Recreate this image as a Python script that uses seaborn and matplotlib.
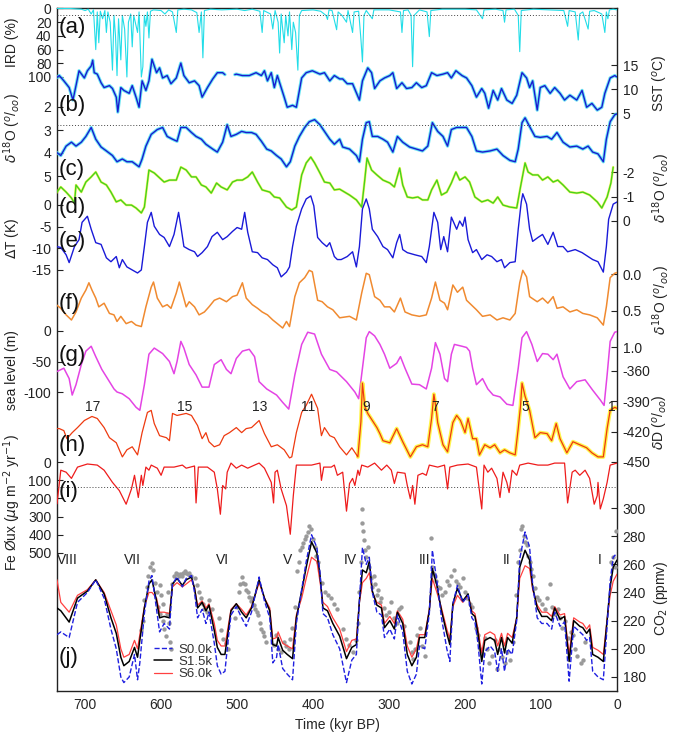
import numpy as np
import matplotlib
matplotlib.use("Agg")
import matplotlib.pyplot as plt
from matplotlib.lines import Line2D
import seaborn as sns

# ---------------- data (time in kyr BP, value) ----------------
IRD = [(737,0),(720,0),(705,1),(700,3),(696,1),(692,8),(689,2),(686,60),(684,5),(682,50),(680,4),(677,15),(674,3),
       (672,35),(670,5),(667,20),(664,90),(662,10),(660,40),(658,98),(656,15),(653,75),(651,10),(648,30),(645,100),
       (643,20),(640,8),(638,56),(636,10),(633,25),(631,35),(629,5),(626,100),(624,85),(622,10),(620,26),(618,5),
       (616,43),(614,4),(610,2),(600,3),(595,8),(590,2),(585,5),(580,35),(578,2),(570,1),(560,2),(553,6),(550,35),
       (547,5),(545,72),(543,3),(535,1),(520,2),(500,1),(490,3),(480,1),(470,4),(467,35),(465,3),(456,8),(453,30),
       (450,3),(446,20),(444,65),(442,8),(440,30),(438,50),(436,10),(433,40),(431,5),(428,60),(426,20),(423,35),
       (420,90),(418,10),(415,3),(400,2),(390,4),(383,10),(381,16),(379,2),(375,3),(369,31),(367,5),(362,10),
       (356,20),(354,3),(348,35),(346,5),(340,4),(337,45),(335,78),(333,10),(330,3),(322,15),(320,2),(300,2),
       (285,5),(283,35),(281,3),(275,2),(271,10),(269,85),(267,10),(260,2),(250,5),(247,41),(245,3),(230,1),
       (200,1),(185,2),(177,15),(175,2),(160,1),(150,3),(148,20),(146,2),(135,1),(130,10),(128,63),(126,3),
       (110,1),(90,2),(70,3),(65,26),(63,3),(55,5),(51,46),(49,8),(45,5),(38,30),(36,4),(30,3),(20,8),(16,35),
       (14,5),(12,15),(10,2),(5,1),(0,2)]

SST = [(738,12.3),(734,12.8),(728,11.7),(721,10.3),(716,7.7),(712,10.7),(708,13.8),(701,12.3),(697,13.8),(692,14.8),
       (690,16.0),(688,13.4),(684,13.1),(679,11.3),(675,10.3),(668,10.7),(664,10.1),(659,8.3),(657,5.2),(653,10.3),
       (649,9.7),(642,9.1),(638,10.7),(633,8.3),(629,6.2),(625,11.7),(620,9.7),(616,11.7),(612,16.2),(606,13.4),
       (602,14.4),(598,12.3),(592,12.8),(587,11.1),(580,12.3),(574,15.4),(570,12.8),(563,11.3),(556,11.7),(550,10.7),
       (546,8.3),(539,10.3),(532,12.1),(526,13.4),(519,13.4),(516,13.0),
       (503,13.0),(501,13.1),(493,12.8),(484,12.8),(475,13.4),(468,12.8),(464,13.8),(460,11.7),(455,13.4),(451,10.3),
       (447,12.8),(442,10.3),(438,8.3),(434,6.2),(427,6.6),(422,6.2),(415,12.3),(409,13.4),(401,13.8),(391,13.1),
       (385,13.4),(378,11.7),(372,12.8),(365,12.1),(361,12.1),(355,11.1),(348,11.1),(339,7.7),(335,11.7),(328,14.4),
       (323,13.4),(319,10.1),(312,11.7),(306,12.3),(299,12.8),(295,13.4),(290,10.1),(283,11.3),(277,10.1),(270,10.3),
       (264,11.3),(257,10.3),(251,10.7),(244,13.4),(237,12.8),(229,13.1),(223,13.4),(218,12.3),(212,13.8),(204,12.8),
       (198,12.3),(191,10.7),(185,8.3),(178,10.1),(174,9.1),(169,6.0),(163,9.7),(157,7.7),(152,10.1),(145,7.7),
       (138,7.0),(132,8.7),(125,13.4),(119,12.3),(115,10.3),(111,11.7),(105,5.6),(101,10.3),(95,10.7),(88,9.1),
       (82,10.3),(75,9.1),(69,7.7),(62,8.7),(53,7.7),(46,9.7),(40,6.2),(33,7.0),(26,5.6),(20,6.2),(16,9.1),
       (9,12.3),(3,12.8),(0,12.5)]
SST_GAP = (516, 503)

BENTHIC = [(738,3.96),(732,4.11),(725,3.70),(718,3.53),(712,3.70),(705,3.53),(699,3.28),(692,2.89),(686,3.40),
           (679,3.74),(672,3.91),(664,4.11),(658,4.38),(651,4.26),(645,4.38),(638,4.38),(629,4.60),(625,4.26),
           (620,3.70),(613,3.19),(605,2.98),(598,2.89),(592,3.28),(585,3.40),(579,3.49),(574,2.89),(567,2.89),
           (560,3.11),(554,3.28),(547,3.40),(541,3.62),(532,3.83),(526,3.96),(519,3.53),(513,2.77),(508,3.28),
           (501,3.19),(494,3.06),(488,3.11),(481,3.11),(475,3.19),(468,3.49),(461,3.83),(455,3.91),(448,4.11),
           (442,4.26),(435,4.60),(430,4.38),(424,3.70),(418,3.28),(411,2.89),(405,2.64),(398,2.55),(391,2.77),
           (385,3.06),(378,3.40),(372,3.62),(365,3.40),(361,3.74),(352,3.83),(343,4.11),(339,4.38),(335,3.40),
           (330,2.68),(326,2.64),(322,3.28),(315,3.28),(308,3.40),(302,3.53),(295,3.96),(289,3.28),(282,3.53),
           (273,3.74),(264,3.83),(256,3.91),(249,3.70),(243,2.68),(236,3.06),(229,3.28),(223,3.70),(218,2.98),
           (211,2.89),(204,2.89),(198,2.89),(191,3.28),(185,3.91),(177,3.96),(167,3.91),(158,3.83),(150,4.11),
           (141,4.32),(134,4.38),(130,3.83),(125,2.68),(121,2.47),(115,2.85),(108,3.28),(101,3.32),(92,3.28),
           (86,3.40),(79,3.11),(71,3.53),(62,3.74),(53,3.70),(45,3.83),(38,3.70),(32,3.96),(25,4.04),(18,4.38),
           (14,3.40),(9,2.64),(3,2.34),(0,2.30)]

PLANKTIC = [(738,-1.14),(732,-1.39),(725,-1.18),(718,-0.94),(714,-0.73),(712,-1.47),(705,-1.18),(699,-1.59),
            (692,-1.80),(686,-2.0),(679,-1.59),(672,-1.47),(666,-1.18),(659,-0.78),(653,-0.86),(646,-0.65),
            (639,-0.65),(633,-0.53),(626,-0.33),(622,-0.57),(616,-2.08),(609,-1.96),(602,-1.76),(596,-1.59),
            (589,-1.67),(580,-1.67),(574,-2.2),(567,-2.08),(560,-1.80),(554,-1.80),(547,-1.47),(541,-1.39),
            (534,-1.14),(527,-1.55),(521,-1.39),(513,-1.27),(506,-1.59),(500,-1.67),(493,-1.67),(486,-1.80),
            (480,-2.0),(473,-1.59),(467,-1.27),(457,-1.18),(451,-0.98),(444,-0.94),(435,-0.57),(428,-0.45),
            (422,-0.57),(415,-1.88),(409,-2.37),(403,-2.61),(398,-2.37),(391,-1.96),(385,-1.59),(378,-1.55),
            (372,-1.27),(365,-1.30),(352,-1.06),(343,-0.86),(336,-0.57),(332,-1.67),(329,-2.57),(323,-2.08),
            (316,-1.88),(308,-1.67),(299,-1.55),(293,-1.39),(286,-2.16),(282,-1.47),(276,-0.98),(269,-0.94),
            (262,-0.98),(256,-0.86),(249,-0.86),(244,-1.27),(237,-1.67),(231,-1.06),(224,-1.18),(218,-1.55),
            (212,-2.0),(207,-1.67),(200,-1.80),(194,-1.59),(187,-0.98),(178,-0.78),(170,-0.86),(163,-0.73),
            (157,-0.98),(150,-0.65),(141,-0.57),(132,-0.53),(127,-1.39),(121,-2.37),(117,-2.0),(111,-1.88),
            (104,-1.88),(98,-1.67),(91,-1.80),(84,-1.59),(78,-1.67),(71,-1.47),(62,-1.18),(53,-1.14),(45,-1.18),
            (36,-1.06),(26,-0.78),(20,-0.53),(13,-0.98),(8,-1.55),(5,-2.2)]

DELTA_T = [(738,-9.6),(732,-9.8),(725,-11.5),(721,-13.3),(714,-9.6),(708,-8.0),(704,-4.0),(697,-2.6),(692,-5.6),
           (686,-8.7),(679,-9.1),(672,-12.2),(666,-13.1),(659,-11.9),(655,-14.5),(651,-12.6),(645,-14.3),(638,-15.0),
           (631,-15.7),(626,-15.0),(622,-9.6),(618,-4.0),(613,-1.7),(609,-4.9),(602,-6.8),(596,-7.5),(589,-9.6),
           (583,-6.8),(577,-1.7),(574,-4.9),(570,-9.6),(563,-10.3),(556,-10.8),(552,-11.9),(546,-11.0),(539,-9.6),
           (533,-7.3),(526,-6.3),(519,-8.0),(513,-7.3),(506,-6.1),(500,-5.2),(494,-5.6),(490,-1.7),(486,-6.3),
           (480,-10.8),(473,-11.0),(467,-12.2),(460,-12.6),(453,-13.8),(447,-14.5),(442,-16.6),(435,-15.5),
           (431,-14.3),(427,-9.6),(422,-4.9),(415,-0.9),(409,1.4),(403,2.1),(399,-0.2),(394,-7.5),(388,-8.7),
           (382,-9.6),(378,-8.7),(372,-11.9),(368,-12.6),(363,-12.6),(355,-11.9),(348,-10.8),(343,-14.3),(339,-9.6),
           (335,-0.9),(330,1.4),(326,-0.9),(322,-5.6),(315,-7.3),(308,-9.6),(302,-10.3),(295,-12.2),(290,-8.7),
           (286,-6.8),(282,-10.3),(276,-11.0),(266,-11.5),(257,-11.9),(251,-13.3),(247,-9.6),(241,-1.7),(236,-4.0),
           (232,-10.3),(228,-7.3),(223,-10.8),(218,-2.8),(211,-5.6),(207,-3.7),(203,-4.9),(200,-2.8),(196,-8.0),
           (190,-11.0),(185,-10.3),(178,-12.6),(171,-11.5),(165,-11.9),(158,-13.1),(152,-12.6),(148,-14.5),
           (141,-13.3),(134,-13.1),(130,-5.6),(126,0.7),(124,2.6),(119,0.2),(115,-5.6),(111,-8.4),(104,-7.5),
           (98,-6.8),(91,-9.1),(84,-6.3),(78,-9.6),(71,-9.6),(65,-10.8),(55,-10.3),(46,-11.0),(38,-11.9),(32,-12.6),
           (25,-13.1),(18,-15.5),(14,-9.6),(11,-3.3),(5,0.2),(0,0.7)]

ORANGE = [(738,0.42),(732,0.47),(725,0.56),(718,0.63),(712,0.52),(705,0.33),(699,0.22),(695,0.12),(691,0.22),
          (686,0.33),(682,0.45),(675,0.40),(668,0.54),(662,0.56),(658,0.65),(653,0.58),(646,0.68),(639,0.65),
          (633,0.70),(626,0.72),(620,0.45),(613,0.18),(610,0.11),(605,0.33),(598,0.45),(592,0.42),(587,0.47),
          (580,0.26),(576,0.11),(572,0.26),(567,0.45),(563,0.38),(556,0.45),(550,0.56),(543,0.52),(537,0.45),
          (530,0.36),(523,0.33),(514,0.38),(506,0.31),(500,0.29),(493,0.12),(488,0.33),(480,0.42),(473,0.47),
          (467,0.52),(460,0.56),(453,0.63),(447,0.68),(440,0.74),(435,0.65),(431,0.72),(424,0.31),(418,0.12),
          (411,0.05),(405,-0.05),(401,-0.03),(394,0.36),(388,0.38),(381,0.45),(374,0.49),(365,0.60),(352,0.58),
          (343,0.63),(336,0.26),(330,-0.01),(326,0.01),(319,0.31),(312,0.36),(306,0.45),(299,0.45),(293,0.52),
          (285,0.33),(279,0.52),(270,0.56),(260,0.58),(251,0.56),(244,0.33),(239,0.11),(233,0.36),(227,0.40),
          (223,0.49),(216,0.15),(210,0.25),(203,0.18),(198,0.36),(194,0.40),(185,0.49),(177,0.58),(167,0.56),
          (158,0.63),(150,0.60),(141,0.63),(134,0.54),(128,0.12),(124,-0.05),(119,0.04),(115,0.31),(105,0.38),
          (98,0.33),(91,0.40),(84,0.31),(79,0.47),(71,0.45),(62,0.52),(53,0.49),(45,0.54),(36,0.56),(26,0.60),
          (18,0.70),(14,0.45),(9,0.05),(3,-0.01),(0,-0.02)]

SEA_LEVEL = [(738,-67),(728,-61),(721,-78),(717,-105),(712,-88),(705,-55),(699,-33),(692,-25),(686,-42),(678,-63),
             (668,-83),(662,-95),(658,-100),(651,-103),(642,-111),(633,-125),(628,-130),(622,-88),(616,-38),(609,-28),
             (598,-37),(589,-50),(583,-70),(579,-50),(574,-17),(570,-28),(563,-55),(554,-72),(546,-92),(537,-92),
             (530,-55),(521,-47),(514,-63),(508,-70),(501,-45),(493,-33),(484,-30),(477,-42),(471,-83),(461,-95),
             (448,-105),(440,-117),(432,-128),(424,-72),(415,-22),(407,-2),(398,-5),(389,-38),(378,-63),(369,-67),
             (356,-83),(345,-100),(340,-111),(335,-61),(330,-11),(326,-1),(319,-8),(312,-22),(306,-38),(299,-61),
             (290,-53),(285,-42),(279,-61),(270,-87),(260,-88),(251,-95),(244,-61),(239,-19),(233,-38),(227,-78),
             (223,-83),(218,-38),(214,-22),(204,-25),(198,-27),(194,-33),(190,-61),(185,-88),(177,-78),(170,-95),
             (163,-105),(154,-108),(145,-120),(137,-122),(130,-61),(125,-11),(119,-1),(112,-22),(105,-50),(98,-37),
             (91,-38),(84,-47),(79,-38),(71,-75),(62,-95),(53,-83),(42,-80),(32,-97),(22,-113),(17,-122),(13,-72),
             (9,-17),(3,-2),(0,-1)]

DELTA_D = [(737,-417),(734,-417),(728,-419),(724,-427),(717,-421),(710,-416),(701,-409),(691,-405),(684,-407),
           (675,-416),(668,-426),(659,-431),(651,-445),(645,-438),(638,-435),(631,-443),(625,-421),(618,-401),
           (613,-399),(609,-412),(602,-424),(593,-426),(589,-429),(585,-402),(579,-404),(567,-402),(560,-404),
           (552,-414),(546,-427),(541,-421),(537,-430),(530,-435),(523,-433),(517,-424),(510,-421),(501,-416),
           (494,-421),(488,-417),(481,-416),(471,-409),(464,-422),(455,-435),(447,-433),(438,-438),(431,-446),
           (428,-445),(422,-421),(415,-401),(409,-394),(402,-383),(394,-397),(389,-424),(385,-416),(378,-424),
           (372,-426),(365,-435),(356,-443),(349,-436),(341,-445),(337,-410),(335,-372),(332,-395),(328,-402),
           (322,-409),(316,-416),(312,-422),(308,-429),(299,-431),(290,-417),(282,-430),(272,-445),(264,-435),
           (256,-433),(249,-435),(244,-407),(241,-383),(238,-398),(236,-411),(229,-433),(223,-440),(216,-411),
           (211,-404),(206,-409),(200,-421),(196,-407),(190,-427),(185,-427),(181,-443),(174,-433),(167,-436),
           (161,-433),(154,-441),(148,-438),(141,-441),(134,-443),(130,-417),(127,-395),(125,-372),(121,-385),
           (115,-399),(108,-426),(101,-421),(92,-422),(86,-429),(80,-412),(75,-427),(66,-441),(58,-430),(49,-433),
           (40,-436),(33,-441),(25,-445),(18,-445),(13,-417),(9,-399),(3,-396),(0,-397)]

FE_FLUX = [(737,230),(732,45),(725,56),(718,90),(710,28),(697,11),(684,17),(675,45),(664,112),(655,157),(646,232),
           (639,148),(635,73),(630,195),(626,73),(624,129),(620,28),(616,45),(613,17),(605,34),(600,73),(596,28),
           (583,28),(572,17),(567,34),(556,22),(554,225),(551,28),(539,28),(530,56),(526,148),(522,287),(519,129),
           (515,148),(513,56),(508,6),(501,34),(494,17),(486,34),(477,17),(471,6),(464,34),(455,112),(452,225),
           (450,56),(447,45),(442,148),(435,240),(430,397),(426,185),(422,17),(414,17),(402,17),(391,6),(389,101),
           (386,28),(376,28),(372,17),(368,73),(361,56),(356,270),(352,118),(348,90),(345,129),(341,45),(339,73),
           (336,17),(328,28),(319,6),(310,45),(303,17),(297,45),(293,118),(289,56),(279,62),(276,129),(272,202),
           (269,129),(266,232),(262,73),(256,62),(251,73),(247,17),(236,28),(227,17),(223,148),(220,28),(210,17),
           (196,11),(185,28),(178,258),(175,17),(170,56),(165,34),(158,90),(154,195),(150,56),(145,112),(142,168),
           (138,45),(132,73),(128,17),(117,6),(104,17),(91,17),(82,6),(69,6),(65,225),(59,56),(55,45),(49,73),
           (42,45),(36,90),(30,232),(26,185),(25,112),(22,258),(18,202),(13,112),(9,17),(0,6)]

CO2_TIME = [737,732,721,710,697,686,675,666,659,653,649,642,635,631,628,622,616,612,606,602,596,589,585,579,572,
            567,560,556,552,546,541,537,530,526,521,516,511,508,501,494,488,481,475,471,464,457,453,448,446,440,
            434,427,422,415,409,402,395,391,387,381,374,365,356,349,343,339,335,330,326,322,316,310,306,299,293,
            289,282,276,270,264,260,253,247,243,237,231,224,220,216,210,203,196,191,187,183,178,174,167,161,157,
            152,148,144,138,132,128,121,115,111,105,99,92,86,82,75,69,63,57,49,45,40,36,32,25,18,13,9,5,0]
CO2_S15 = [229,227,219,236,241,249,239,222,211,194,188,191,201,194,206,229,246,249,234,222,223,222,246,250,245,
           249,251,243,229,233,227,231,213,201,196,196,215,227,232,226,222,229,241,249,236,227,203,202,208,199,
           196,193,222,241,258,276,268,253,229,227,218,209,193,201,203,234,256,254,262,241,231,229,215,220,214,
           226,218,196,188,194,208,208,227,257,245,227,211,203,232,243,234,239,225,223,211,191,206,208,206,196,
           208,197,208,204,222,258,270,263,244,229,223,223,220,229,221,223,191,220,216,215,211,214,196,194,191,
           220,244,258,263]
CO2_S00 = [210,212,208,233,240,249,236,214,200,180,176,180,196,178,190,225,248,252,228,212,218,214,246,251,244,
           250,252,240,222,228,218,226,204,188,182,184,210,224,230,222,216,226,241,251,234,222,190,194,203,186,
           182,178,218,242,262,281,272,255,225,222,210,200,176,192,196,234,272,260,265,240,226,224,208,214,207,
           224,212,184,175,182,202,200,225,270,248,222,200,191,232,245,233,238,222,219,204,175,198,202,198,184,
           200,184,200,196,220,264,283,272,246,222,218,218,214,226,216,219,177,216,212,210,206,208,184,180,178,
           216,248,265,268]
CO2_S60 = [249,233,226,238,242,249,240,227,217,200,194,196,206,200,210,230,240,240,236,226,226,225,244,247,244,
           246,249,243,231,234,229,232,218,206,202,202,218,228,232,228,224,230,240,247,236,229,207,208,212,204,
           202,200,224,236,250,265,262,248,233,230,222,214,198,206,207,233,247,250,254,240,233,231,218,223,218,
           227,221,202,194,200,210,210,228,250,240,229,214,207,230,238,233,238,227,225,214,197,210,212,210,202,
           211,202,211,208,222,250,259,257,242,231,226,226,223,230,224,225,196,222,219,218,214,217,201,199,196,
           221,238,248,253]

CO2_ICE = [(626,213),(624,220),(622,235),(619,244),(617,252),(614,258),(612,261),(610,256),(608,247),(606,240),
           (604,230),(602,225),(601,245),(600,238),(598,232),(597,220),(596,214),(594,209),(592,225),(591,240),
           (590,218),(588,205),(587,200),(585,246),(583,252),(581,254),(579,253),(577,252),(575,253),(573,252),
           (571,254),(569,255),(567,254),(565,253),(563,254),(561,252),(555,250),(553,245),(550,240),(548,236),
           (545,232),(543,228),(540,226),(537,235),(533,228),(524,222),(521,213),(518,207),(515,204),(512,200),
           (503,222),(500,230),(498,240),(496,246),(494,251),(492,247),(490,246),(488,242),(486,240),(484,237),
           (482,234),(480,236),(478,231),(476,228),(474,226),(472,224),(470,218),(468,214),(466,212),(464,209),
           (462,205),(452,203),(449,210),(446,200),(442,198),(438,205),(435,202),(432,200),(430,207),(428,215),
           (424,230),(421,255),(419,262),(417,270),(415,272),(413,275),(411,278),(409,280),(407,283),(405,287),
           (403,285),(400,278),(398,272),(396,266),(393,262),(388,247),(384,240),(380,238),(376,236),(372,232),
           (368,228),(361,214),(357,207),(353,203),(348,198),(344,206),(341,218),(339,240),(337,262),(336,299),
           (335,289),(334,284),(333,277),(332,270),(330,265),(328,272),(326,258),(324,250),(322,244),(320,252),
           (318,246),(316,238),(314,242),(312,233),(310,236),(307,229),(304,224),(300,226),(297,233),(294,222),
           (290,218),(287,228),(284,230),(280,216),(273,205),(270,198),(268,193),(266,200),(263,210),(259,215),
           (256,202),(253,195),(245,279),(244,258),(242,254),(240,252),(238,248),(236,244),(233,243),(230,238),
           (227,240),(224,248),(221,245),(218,252),(215,256),(212,248),(209,246),(206,244),(203,250),(200,240),
           (197,236),(194,232),(191,230),(186,215),(183,210),(180,200),(177,196),(174,208),(171,200),(168,190),
           (165,195),(161,206),(158,186),(155,200),(152,194),(148,190),(145,198),(141,192),(137,205),(133,238),
           (130,262),(128,270),(127,285),(125,287),(123,280),(121,276),(119,274),(117,266),(115,262),(113,257),
           (111,252),(108,243),(105,237),(102,235),(99,232),(95,228),(92,236),(88,246),(85,230),(82,225),(78,228),
           (75,222),(72,215),(68,220),(64,208),(61,212),(58,210),(55,200),(52,195),(48,190),(45,192),(42,205),
           (8,262),(5,265),(3,258),(1,284)]

X_TICKS = [700, 600, 500, 400, 300, 200, 100, 0]
MIS_LABELS = [(17, 93), (15, 185), (13, 260), (11, 308), (9, 366), (7, 435), (5, 525), (1, 612)]
TERM_LABELS = [("VIII", 67), ("VII", 132), ("VI", 222), ("V", 288), ("IV", 350), ("III", 425), ("II", 507), ("I", 600)]
LEGEND_LABELS = ["S0.0k", "S1.5k", "S6.0k"]

# ---------------- style ----------------
sns.set_style("white")
plt.rcParams["font.family"] = ["Liberation Sans", "DejaVu Sans"]
plt.rcParams["axes.unicode_minus"] = False
plt.rcParams["mathtext.fontset"] = "dejavusans"

W, H = 675, 735
fig = plt.figure(figsize=(W / 100, H / 100), dpi=100)
PX_L, PX_R, PY_T, PY_B = 57, 617, 8, 691
POS = [PX_L / W, 1 - PY_B / H, (PX_R - PX_L) / W, (PY_B - PY_T) / H]
XLIM = (737, 0)


def fx(px):
    return px / W


def fy(py):
    return 1 - py / H


main = fig.add_axes(POS)
main.set_xlim(*XLIM)
main.set_ylim(0, 1)
main.set_yticks([])
main.set_xticks(X_TICKS)
main.tick_params(axis="x", direction="in", length=4, labelsize=10, pad=5)
main.set_xlabel("Time (kyr BP)", fontsize=10, labelpad=4)
for s in main.spines.values():
    s.set_visible(True)
    s.set_linewidth(1.0)
    s.set_color("#222222")


def panel(a, b, side, ticks, labels=None):
    """overlay axes where pixel row py = a + b*value"""
    ax = fig.add_axes(POS, sharex=main)
    ax.patch.set_alpha(0)
    for s in ax.spines.values():
        s.set_visible(False)
    ax.set_ylim((PY_B - a) / b, (PY_T - a) / b)
    ax.tick_params(axis="x", bottom=False, labelbottom=False)
    ax.yaxis.set_ticks_position(side)
    ax.set_yticks(ticks)
    if labels is not None:
        ax.set_yticklabels(labels)
    ax.tick_params(axis="y", direction="in", length=4, labelsize=10, pad=4, colors="#222222")
    return ax


def unzip(pts):
    t = np.array([p[0] for p in pts], float)
    v = np.array([p[1] for p in pts], float)
    return t, v


def line(ax, t, v, **kw):
    sns.lineplot(x=t, y=v, ax=ax, estimator=None, sort=False, **kw)
    ax.set_xlabel("")
    ax.set_ylabel("")


# (a) IRD
ax_ird = panel(8.5, 0.685, "left", [0, 20, 40, 60, 80, 100])
t, v = unzip(IRD)
line(ax_ird, t, v, color="#22dde8", linewidth=0.8)
ax_ird.axhline(10, color="#444444", linestyle=(0, (1, 2)), linewidth=0.7)

# (b) SST
ax_sst = panel(137.0, -4.8, "right", [5, 10, 15])
t, v = unzip(SST)
for m in (t >= SST_GAP[0], t <= SST_GAP[1]):
    line(ax_sst, t[m], v[m], color="#44e0f0", linewidth=2.4, alpha=0.8)
    line(ax_sst, t[m], v[m], color="#1a1ad0", linewidth=1.0)

# (b/c) benthic d18O
ax_ben = panel(61.0, 23.0, "left", [2, 3, 4, 5])
t, v = unzip(BENTHIC)
line(ax_ben, t, v, color="#44e0f0", linewidth=2.4, alpha=0.8)
line(ax_ben, t, v, color="#1a1ad0", linewidth=1.0)
ax_ben.axhline(2.78, color="#444444", linestyle=(0, (1, 2)), linewidth=0.7)

# (c) planktic d18O
ax_pl = panel(221.0, 24.5, "right", [-2, -1, 0])
t, v = unzip(PLANKTIC)
line(ax_pl, t, v, color="#f4f000", linewidth=1.8, alpha=0.6)
line(ax_pl, t, v, color="#44d21e", linewidth=1.0)

# (d/e) Delta T
ax_dt = panel(205.0, -4.33, "left", [0, -5, -10, -15])
t, v = unzip(DELTA_T)
line(ax_dt, t, v, color="#1a1ad8", linewidth=1.0)

# (f) d18O orange
ax_or = panel(274.0, 73.0, "right", [0.0, 0.5, 1.0], ["0.0", "0.5", "1.0"])
t, v = unzip(ORANGE)
line(ax_or, t, v, color="#f08a30", linewidth=1.1)

# (g) sea level
ax_sl = panel(331.0, -0.61, "left", [0, -50, -100])
t, v = unzip(SEA_LEVEL)
line(ax_sl, t, v, color="#e444e4", linewidth=1.1)

# (h) deltaD
ax_dd = panel(7.0, -1.011, "right", [-360, -390, -420, -450])
t, v = unzip(DELTA_D)
m = t <= 345
line(ax_dd, t[m], v[m], color="#fff200", linewidth=2.8, alpha=0.7)
line(ax_dd, t, v, color="#ee3a10", linewidth=0.9)

# (i) Fe flux
ax_fe = panel(462.0, 0.182, "left", [0, 100, 200, 300, 400, 500])
t, v = unzip(FE_FLUX)
line(ax_fe, t, v, color="#ee1c1c", linewidth=0.9)
ax_fe.axhline(140, color="#444444", linestyle=(0, (1, 2)), linewidth=0.7)

# (j) CO2
ax_co = panel(930.4, -1.408, "right", [180, 200, 220, 240, 260, 280, 300])
t, v = unzip(CO2_ICE)
sns.scatterplot(x=t, y=v, ax=ax_co, color="#9a9a9a", s=10, linewidth=0, zorder=1)
ct = np.array(CO2_TIME, float)
line(ax_co, ct, np.array(CO2_S60, float), color="#ff4040", linewidth=0.9, zorder=3)
line(ax_co, ct, np.array(CO2_S15, float), color="black", linewidth=1.1, zorder=4)
line(ax_co, ct, np.array(CO2_S00, float), color="#2020e0", linewidth=1.0, linestyle="--", zorder=5)
ax_co.set_xlabel("")
ax_co.set_ylabel("")

for ax in fig.axes:
    ax.set_xlim(*XLIM)
    lg = ax.get_legend()
    if lg is not None:
        lg.remove()

handles = [Line2D([], [], color="#2020e0", linestyle="--", linewidth=1.0),
           Line2D([], [], color="black", linewidth=1.1),
           Line2D([], [], color="#ff4040", linewidth=0.9)]
fig.legend(handles, LEGEND_LABELS, loc="upper left", bbox_to_anchor=(fx(147), fy(637)),
           frameon=False, fontsize=9.5, handlelength=1.4, labelspacing=0.0, borderpad=0,
           handletextpad=0.45, labelcolor="#333333")

# panel letters
for lab, py in [("(a)", 28), ("(b)", 106), ("(c)", 170), ("(d)", 208), ("(e)", 242), ("(f)", 304),
                ("(g)", 356), ("(h)", 445), ("(i)", 491), ("(j)", 657)]:
    fig.text(fx(59), fy(py), lab, fontsize=16, ha="left", va="center", color="#111111")

# MIS numbers and terminations
for n, px in MIS_LABELS:
    fig.text(fx(px), fy(407), str(n), fontsize=10, ha="center", va="center", color="#222222")
for s, px in TERM_LABELS:
    fig.text(fx(px), fy(560), s, fontsize=10, ha="center", va="center", color="#222222")

# axis titles
left_labels = [("IRD (%)", 42), (r"$\delta^{18}$O ($^o$/$_{oo}$)", 128), (r"$\Delta$T (K)", 238),
               ("sea level (m)", 370), (r"Fe Øux ($\mu$g m$^{-2}$ yr$^{-1}$)", 503)]
for txt, py in left_labels:
    fig.text(fx(12), fy(py), txt, rotation=90, fontsize=10, ha="center", va="center", color="#222222")
right_labels = [(r"SST ($^o$C)", 83), (r"$\delta^{18}$O ($^o$/$_{oo}$)", 188),
                (r"$\delta^{18}$O ($^o$/$_{oo}$)", 300), (r"$\delta$D ($^o$/$_{oo}$)", 422),
                (r"CO$_2$ (ppmv)", 598)]
for txt, py in right_labels:
    fig.text(fx(661), fy(py), txt, rotation=90, fontsize=10, ha="center", va="center", color="#222222")

fig.savefig("out.png", dpi=100)
